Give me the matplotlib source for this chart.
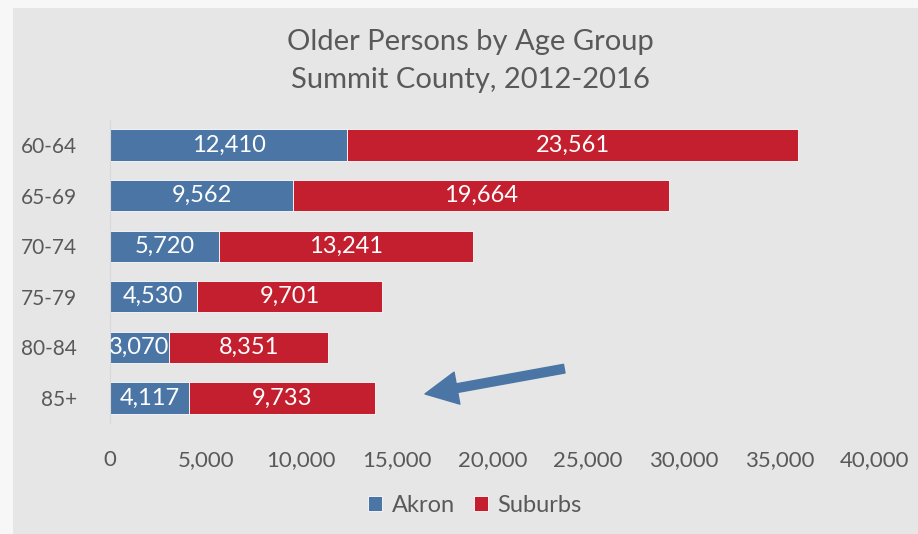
import matplotlib.pyplot as plt
from matplotlib.patches import Rectangle

age_groups = ['60-64', '65-69', '70-74', '75-79', '80-84', '85+']
akron      = [12410, 9562, 5720, 4530, 3070, 4117]
suburbs    = [23561, 19664, 13241, 9701, 8351, 9733]

blue  = '#4a75a5'
red   = '#c31f2f'
grey  = '#595959'

plt.rcParams['font.family'] = ['Lato', 'DejaVu Sans']

fig = plt.figure(figsize=(9.18, 5.34), dpi=100)
fig.patch.set_facecolor('#f7f7f7')
fig.patches.append(Rectangle((13 / 918, 0), 1, 1 - 8 / 534, transform=fig.transFigure,
                             facecolor='#e6e6e6', edgecolor='none', zorder=-1))

ax = fig.add_axes([110 / 918, 110.7 / 534, 765 / 918, 303.6 / 534])
ax.set_facecolor('none')

y = list(range(len(age_groups)))
b1 = ax.barh(y, akron, height=0.62, color=blue, edgecolor='white', linewidth=0.6, label='Akron')
b2 = ax.barh(y, suburbs, left=akron, height=0.62, color=red, edgecolor='white', linewidth=0.6,
             label='Suburbs')

for bars, vals in ((b1, akron), (b2, suburbs)):
    for bar, v in zip(bars, vals):
        ax.text(bar.get_x() + bar.get_width() / 2, bar.get_y() + bar.get_height() / 2,
                f'{v:,}', color='white', ha='center', va='center', fontsize=17)

ax.set_xlim(0, 40000)
ax.set_ylim(5.5, -0.5)
ax.set_yticks(y)
ax.set_yticklabels(age_groups)
ax.set_xticks(range(0, 40001, 5000))
ax.set_xticklabels([f'{v:,}' for v in range(0, 40001, 5000)])
ax.tick_params(axis='both', length=0, colors=grey, labelsize=16)
ax.tick_params(axis='y', labelsize=15, pad=24)
ax.tick_params(axis='x', pad=19)
for s in ('top', 'right', 'bottom'):
    ax.spines[s].set_visible(False)
ax.spines['left'].set_color('#d9d9d9')
ax.spines['left'].set_linewidth(0.8)

ax.annotate('', xy=(16470, 4.92), xytext=(23750, 4.42),
            arrowprops=dict(arrowstyle='simple,head_length=1.3,head_width=1.3,tail_width=0.35',
                            color=blue, shrinkA=0, shrinkB=0, mutation_scale=18))

fig.text(470 / 918, 1 - 42 / 534, 'Older Persons by Age Group', ha='center', va='center',
         fontsize=21, color=grey)
fig.text(470 / 918, 1 - 80 / 534, 'Summit County, 2012-2016', ha='center', va='center',
         fontsize=21, color=grey)

fig.legend(handles=[b1, b2], loc='center', bbox_to_anchor=(475 / 918, 1 - 505 / 534),
           ncol=2, frameon=False, fontsize=17, labelcolor=grey, handlelength=0.6,
           handleheight=0.6, handletextpad=0.4, columnspacing=0.8)

fig.savefig('out.png', dpi=100)
